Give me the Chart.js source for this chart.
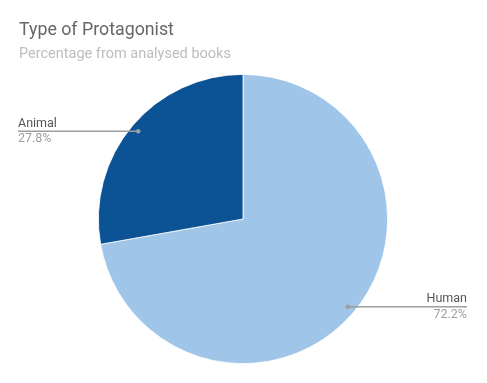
<!DOCTYPE html>
<html>
<head>
<meta charset="utf-8">
<script src="https://cdn.jsdelivr.net/npm/chart.js@4/dist/chart.umd.min.js"></script>
<style>
html,body{margin:0;padding:0;background:#fff;}
#wrap{width:487px;height:383px;position:relative;}
</style>
</head>
<body>
<div id="wrap"><canvas id="c" width="487" height="383"></canvas></div>
<script>
const titleText = "Type of Protagonist";
const subtitleText = "Percentage from analysed books";
const categories = ["Human", "Animal"];
const values = [72.2, 27.8];
const colors = ["#9fc5e8", "#0b5394"];

const FONT = "Roboto, 'Noto Sans', sans-serif";

const labelPlugin = {
  id: 'labelPlugin',
  afterDraw(chart) {
    const ctx = chart.ctx;
    ctx.save();
    ctx.textBaseline = 'alphabetic';
    ctx.textAlign = 'left';
    ctx.fillStyle = '#666666';
    ctx.font = '17.8px ' + FONT;
    ctx.fillText(titleText, 19, 35);
    ctx.fillStyle = '#bdbdbd';
    ctx.font = '14.5px ' + FONT;
    ctx.fillText(subtitleText, 19, 58);

    const meta = chart.getDatasetMeta(0);
    const total = values.reduce((a, b) => a + b, 0);
    meta.data.forEach((arc, i) => {
      const p = arc.getProps(['x', 'y', 'startAngle', 'endAngle', 'outerRadius'], true);
      const mid = (p.startAngle + p.endAngle) / 2;
      const r = p.outerRadius * 0.945;
      const dx = p.x + Math.cos(mid) * r;
      const dy = p.y + Math.sin(mid) * r;
      const left = Math.cos(mid) < 0;
      const endX = left ? 18 : 467;
      ctx.strokeStyle = '#9e9e9e';
      ctx.lineWidth = 1.5;
      ctx.beginPath();
      ctx.moveTo(dx, dy);
      ctx.lineTo(endX, dy);
      ctx.stroke();
      ctx.fillStyle = '#9e9e9e';
      ctx.beginPath();
      ctx.arc(dx, dy, 2.2, 0, Math.PI * 2);
      ctx.fill();
      ctx.textAlign = left ? 'left' : 'right';
      ctx.font = '12.5px ' + FONT;
      ctx.fillStyle = '#555555';
      ctx.fillText(categories[i], endX, dy - 4.5);
      ctx.fillStyle = '#9e9e9e';
      ctx.fillText((values[i] / total * 100).toFixed(1) + '%', endX, dy + 11);
    });
    ctx.restore();
  }
};

new Chart(document.getElementById('c'), {
  type: 'pie',
  data: {
    labels: categories,
    datasets: [{
      data: values,
      backgroundColor: colors,
      borderColor: '#ffffff',
      borderWidth: 0.8
    }]
  },
  options: {
    responsive: false,
    animation: false,
    layout: { padding: { top: 74, bottom: 19, left: 98, right: 99 } },
    plugins: {
      legend: { display: false },
      tooltip: { enabled: false },
      title: { display: false }
    }
  },
  plugins: [labelPlugin]
});
</script>
</body>
</html>
